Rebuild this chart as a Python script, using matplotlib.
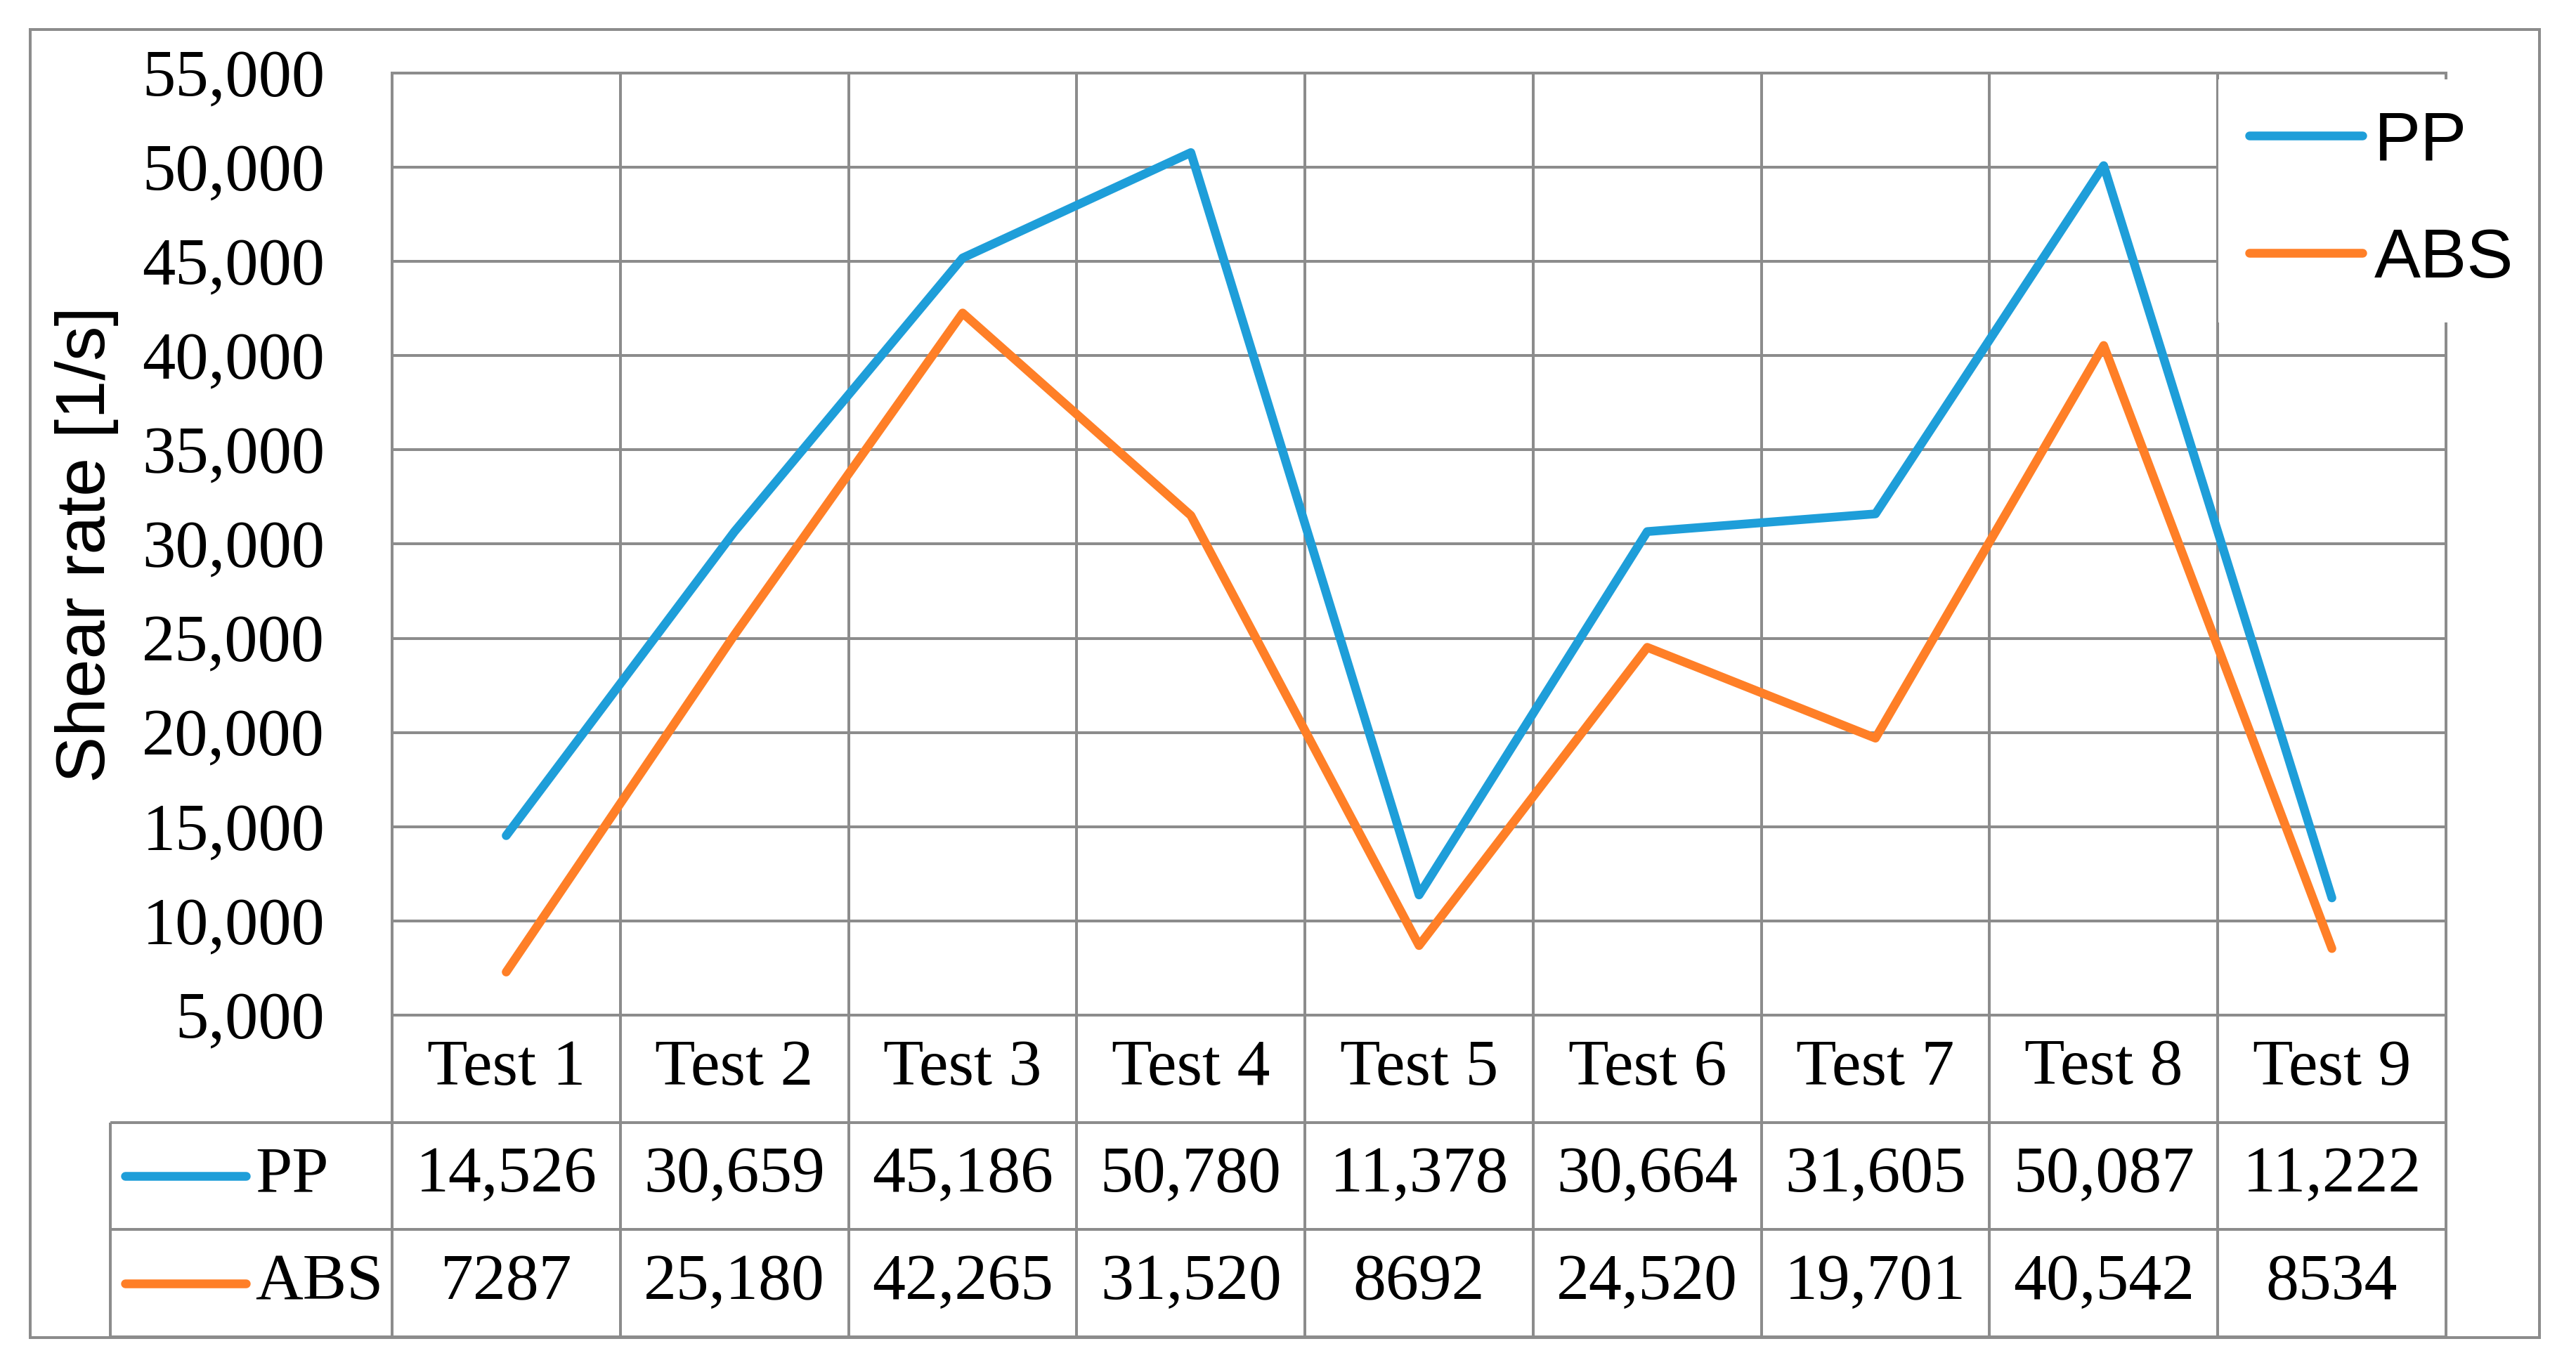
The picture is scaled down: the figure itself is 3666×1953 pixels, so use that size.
import numpy as np
import matplotlib
matplotlib.use("Agg")
import matplotlib.pyplot as plt
from matplotlib.patches import Rectangle
from matplotlib.ticker import FuncFormatter

# data
tests = ["Test 1", "Test 2", "Test 3", "Test 4", "Test 5",
         "Test 6", "Test 7", "Test 8", "Test 9"]
pp = [14526, 30659, 45186, 50780, 11378, 30664, 31605, 50087, 11222]
abs_ = [7287, 25180, 42265, 31520, 8692, 24520, 19701, 40542, 8534]
series = [("PP", pp, "#1e9ed9"), ("ABS", abs_, "#ff7f27")]

gray = "#8c8c8c"
serif = "Liberation Serif"
sans = "Liberation Sans"

W, H = 3666, 1953


def fx(px):
    return px / W


def fy(py):
    return 1 - py / H


def fmt(v):
    # table prints small values without thousands separator
    return f"{v:,}" if v >= 10000 else str(v)


fig = plt.figure(figsize=(W / 300, H / 300), dpi=300)

# plot area
left, right, top, bottom = 558, 3481, 104, 1445
ax = fig.add_axes([fx(left), fy(bottom), (right - left) / W, (bottom - top) / H])
x = np.arange(len(tests)) + 0.5
for name, vals, col in series:
    ax.plot(x, vals, color=col, lw=3, solid_capstyle="round",
            solid_joinstyle="round", label=name)
ax.set_xlim(0, len(tests))
ax.set_ylim(5000, 55000)
ax.set_yticks(np.arange(5000, 55001, 5000))
ax.set_xticks(np.arange(len(tests) + 1))
ax.yaxis.set_major_formatter(FuncFormatter(lambda v, p: f"{int(v):,}"))
ax.tick_params(axis="x", length=0, labelbottom=False)
ax.tick_params(axis="y", length=0, pad=23, labelsize=22.7)
for lab in ax.get_yticklabels():
    lab.set_family(serif)
ax.grid(True, color=gray, lw=0.96)
ax.set_axisbelow(True)
for s in ax.spines.values():
    s.set_color(gray)
    s.set_linewidth(0.96)

fig.text(fx(124), fy(775), "Shear rate [1/s]", rotation=90, ha="center",
         va="center", family=sans, fontsize=23.8)

ax.legend(loc="upper left", bbox_to_anchor=(fx(3157), fy(113)),
          bbox_transform=fig.transFigure, frameon=True, fancybox=False,
          framealpha=1, edgecolor="none", facecolor="white",
          borderaxespad=0, borderpad=0.44, handlelength=1.63,
          handletextpad=0.17, labelspacing=0.77,
          prop={"family": sans, "size": 23.8})

# data table under the plot
col_w = (right - left) / len(tests)
lab_x0 = -(left - 157) / col_w
tab = fig.add_axes([fx(157), fy(1903), (right - 157) / W, (1903 - bottom) / H])
tab.set_xlim(lab_x0, len(tests))
tab.set_ylim(0, 3)
tab.axis("off")
tab.hlines([0, 1, 2], lab_x0, len(tests), color=gray, lw=0.96, clip_on=False)
tab.vlines(np.arange(len(tests) + 1), 0, 3, color=gray, lw=0.96, clip_on=False)
tab.vlines(lab_x0, 0, 2, color=gray, lw=0.96, clip_on=False)

for i, t in enumerate(tests):
    tab.text(i + 0.5, 2.5, t, ha="center", va="center", family=serif, fontsize=22.5)
for row, (name, vals, col) in zip([1.5, 0.5], series):
    tab.plot([(178 - left) / col_w, (350 - left) / col_w], [row, row], color=col,
             lw=3, solid_capstyle="round", clip_on=False)
    tab.text((363 - left) / col_w, row, name, ha="left", va="center",
             family=serif, fontsize=22.5)
    for i, v in enumerate(vals):
        tab.text(i + 0.5, row, fmt(v), ha="center", va="center",
                 family=serif, fontsize=22.5)

# outer chart border
fig.patches.append(Rectangle((fx(43), fy(1904)), (3614 - 43) / W, (1904 - 42) / H,
                             transform=fig.transFigure, fill=False,
                             edgecolor=gray, lw=0.96))

fig.savefig("out.png", dpi=300, facecolor="white")
